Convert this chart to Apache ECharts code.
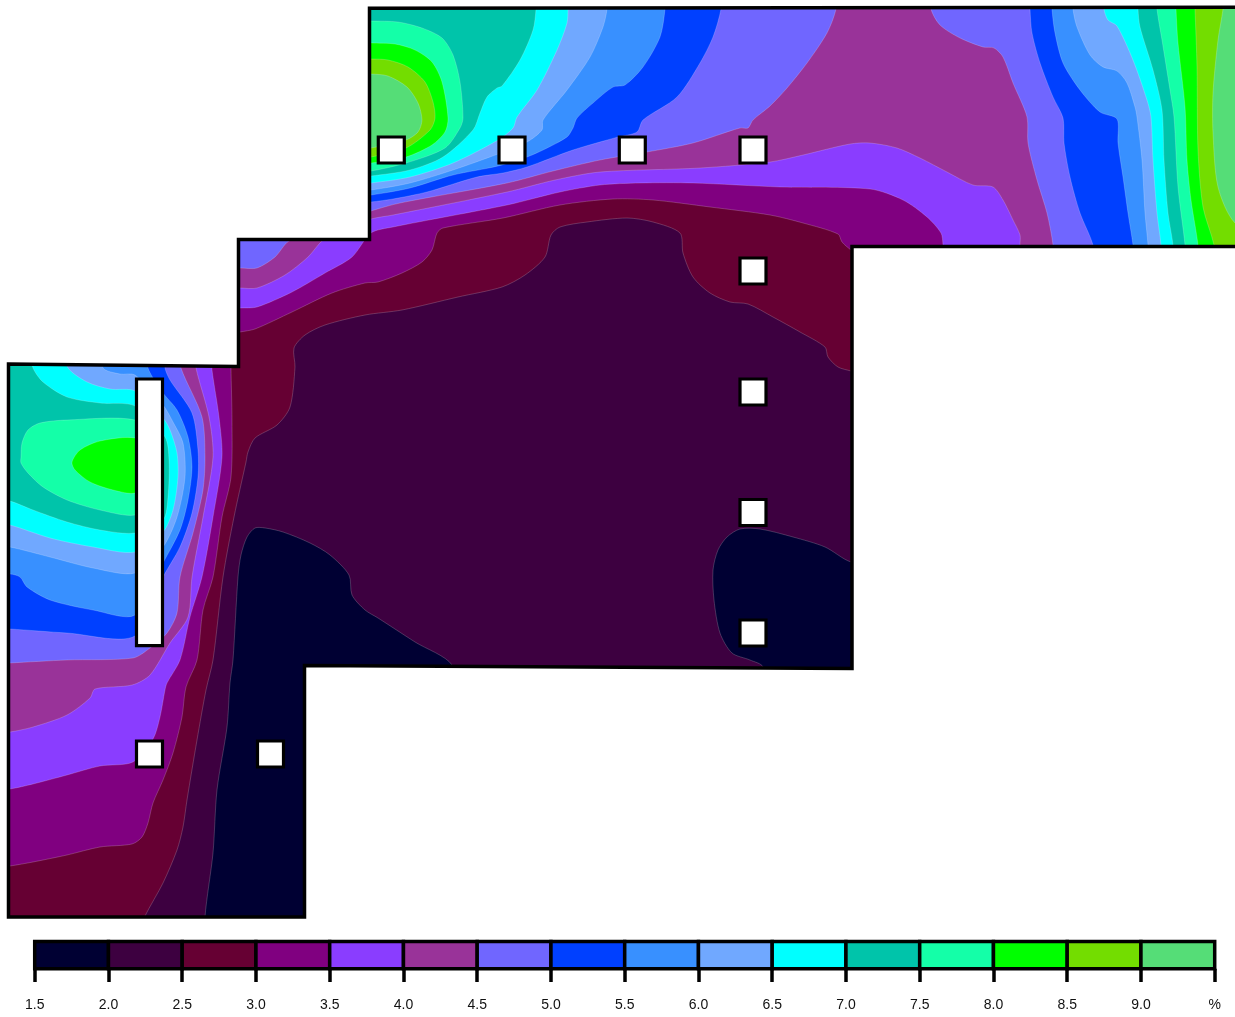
<!DOCTYPE html>
<html><head><meta charset="utf-8">
<style>html,body{margin:0;padding:0;background:#fff}#c{width:1235px;height:1017px}</style>
<script src="https://cdn.jsdelivr.net/npm/echarts@6/dist/echarts.min.js"></script></head>
<body><div id="c"></div><script>
// plan-view coordinates of the room outline
const outline=[[8.5,364],[238.5,366.5],[238.5,239.5],[369.5,239.5],[369.5,8.3],[1300,7.3],[1300,246.5],[852,246.5],[852,668.5],[304.5,665.5],[304.5,917],[8.5,917]];
const levels=[1.5,2,2.5,3,3.5,4,4.5,5,5.5,6,6.5,7,7.5,8,8.5,9];
const colors=['#000033','#3d0040','#660033','#800080','#8a3dff','#993399','#7066ff','#0040ff','#3890ff','#70a8ff','#00ffff','#00c4aa','#14ffa8','#00ff00','#73dd00','#55dd77'];
const tickLabels=['1.5','2.0','2.5','3.0','3.5','4.0','4.5','5.0','5.5','6.0','6.5','7.0','7.5','8.0','8.5','9.0','%'];
const sensorX=[391.3,512,632.3,753,753,753,753,753,149.5,270.5];
const sensorY=[150,150,150,150,271,392,512.5,633,754,754];
const barBox=[[136.5,379],[162.5,645.7]];
// contour bands (each region holds values >= its level)
const c20a=[[205,917],[205,960],[452,960],[452,700],[452,665],[415,642],[378,618],[365,610],[352,595],[349,575],[330,555],[310,543],[283,532],[265,528],[255,528],[247,537],[241,555],[238,577],[233,660],[230,683],[227,727],[217,790],[213,853]];
const c20b=[[763,667],[750,660],[732,653],[720,633],[714,600],[713,570],[718,550],[727,537],[740,529],[760,529],[793,537],[825,547],[851,562],[920,575],[920,700],[763,700]];
const c25=[[140,930],[145,916],[163,883],[177,850],[183,827],[187,800],[197,740],[206,690],[213,660],[223,577],[234,517],[246,462],[248,452],[255,438],[277,425],[290,407],[295,367],[294,348],[305,335],[325,325],[365,315],[402,310],[458,297],[502,287],[525,275],[545,257],[551,235],[560,227],[587,222],[627,218],[653,222],[680,233],[683,253],[693,277],[710,293],[730,302],[748,304],[773,317],[800,332],[825,347],[828,357],[838,367],[851,371],[880,380],[1300,400],[1300,-20],[-20,-20],[-20,940],[140,940]];
const c30a=[[-20,870],[10,866],[33,862],[67,855],[100,847],[132,844],[142,837],[148,823],[153,803],[163,780],[173,753],[182,717],[186,687],[197,660],[203,610],[213,577],[222,517],[231,477],[232,420],[231,368],[231,340],[-20,340]];
const c30b=[[225,335],[240,332],[255,329],[292,312],[332,293],[365,283],[378,282],[402,273],[422,262],[432,250],[437,233],[443,228],[503,218],[560,205],[613,199],[653,200],[710,207],[770,215],[803,223],[838,234],[842,242],[851,250],[880,270],[1300,270],[1300,-20],[225,-20]];
const c35a=[[-20,792],[10,789],[33,784],[67,775],[100,766],[133,762],[153,739],[160,717],[165,690],[167,683],[180,660],[190,617],[202,577],[213,517],[222,457],[219,417],[212,370],[210,345],[-20,345]];
const c35b=[[225,309],[240,308],[257,307],[292,292],[325,273],[352,257],[371,233],[393,227],[507,205],[560,192],[600,185],[640,183],[693,183],[780,187],[870,189],[903,200],[927,217],[941,233],[943,245],[945,270],[1300,270],[1300,-20],[225,-20]];
const c40a=[[-20,735],[10,732],[33,727],[67,715],[90,698],[95,689],[132,685],[150,675],[170,643],[188,617],[192,577],[203,517],[213,457],[209,417],[196,368],[194,345],[-20,345]];
const c40b=[[225,288],[240,288],[257,288],[285,275],[308,257],[322,241],[340,230],[371,219],[393,215],[507,192],[555,180],[600,172],[700,168],[770,162],[803,155],[850,144],[870,143],[897,148],[920,158],[947,172],[973,185],[993,187],[1003,200],[1013,220],[1020,235],[1020,245],[1021,270],[1300,270],[1300,-20],[225,-20]];
const c45a=[[-20,665],[10,663],[67,660],[133,658],[150,648],[167,633],[177,613],[180,577],[193,533],[203,490],[205,457],[202,417],[181,368],[178,345],[-20,345]];
const c45b=[[225,268],[240,268],[257,268],[275,257],[289,241],[330,225],[371,211],[400,203],[507,183],[553,171],[600,160],[647,152],[693,143],[740,128],[748,128],[753,120],[770,106],[787,88],[807,63],[827,33],[836,9],[838,-20],[225,-20]];
const c45c=[[929,-20],[931,9],[940,25],[960,38],[983,47],[994,48],[1003,57],[1013,83],[1027,117],[1028,143],[1037,180],[1047,213],[1053,245],[1054,270],[1300,270],[1300,-20]];
const c50a=[[-20,628],[10,629],[67,633],[135,636],[163,577],[180,547],[192,513],[198,477],[198,450],[192,413],[170,380],[165,368],[163,345],[-20,345]];
const c50b=[[340,-20],[340,205],[371,202],[393,199],[427,192],[477,177],[503,173],[527,167],[573,150],[618,137],[637,132],[643,120],[677,97],[700,63],[713,37],[721,9],[723,-20]];
const c50c=[[1029,-20],[1030,9],[1032,33],[1040,63],[1053,97],[1063,118],[1064,143],[1070,177],[1080,213],[1093,245],[1095,270],[1300,270],[1300,-20]];
const c55a=[[-20,574],[10,574],[20,577],[27,587],[50,600],[93,610],[135,615],[163,563],[180,530],[188,500],[192,467],[188,437],[177,410],[163,393],[148,368],[146,345],[-20,345]];
const c55b=[[340,-20],[340,198],[371,195],[410,188],[453,175],[498,166],[527,157],[543,150],[567,137],[573,128],[577,118],[593,103],[613,87],[625,85],[643,67],[660,37],[665,9],[666,-20]];
const c55c=[[1051,-20],[1052,9],[1055,33],[1063,63],[1080,90],[1100,112],[1117,119],[1118,143],[1123,177],[1128,213],[1133,245],[1135,270],[1300,270],[1300,-20]];
const c60a=[[-20,543],[10,547],[50,557],[93,568],[135,573],[163,547],[177,517],[185,477],[183,443],[173,422],[163,405],[135,375],[120,374],[103,368],[101,345],[-20,345]];
const c60b=[[340,-20],[340,193],[371,190],[410,183],[453,170],[498,154],[527,142],[542,130],[543,120],[567,90],[590,57],[603,27],[607,9],[608,-20]];
const c60c=[[1072,-20],[1073,9],[1077,27],[1090,55],[1103,67],[1117,71],[1127,83],[1135,107],[1137,117],[1142,160],[1145,213],[1148,245],[1149,270],[1300,270],[1300,-20]];
const c65a=[[-20,520],[10,525],[50,538],[93,547],[135,552],[163,532],[173,510],[178,477],[177,453],[170,430],[163,418],[135,391],[110,389],[87,382],[68,368],[60,345],[-20,345]];
const c65b=[[340,-20],[340,186],[371,183],[410,177],[453,163],[498,140],[513,128],[517,117],[537,90],[557,50],[567,23],[568,9],[569,-20]];
const c65c=[[1103,-20],[1104,9],[1108,20],[1117,26],[1133,60],[1147,100],[1151,117],[1153,160],[1157,213],[1161,245],[1162,270],[1300,270],[1300,-20]];
const c70a=[[-20,495],[10,501],[33,510],[67,522],[100,530],[135,533],[163,520],[168,497],[169,460],[165,437],[135,406],[100,403],[67,397],[43,382],[33,368],[28,345],[-20,345]];
const c70b=[[340,-20],[340,179],[371,176],[410,170],[443,157],[473,130],[480,113],[487,97],[497,88],[502,86],[520,60],[533,30],[536,9],[537,-20]];
const c70c=[[1137,-20],[1138,9],[1140,27],[1153,70],[1162,110],[1164,160],[1168,213],[1173,245],[1174,270],[1300,270],[1300,-20]];
const c75a=[[21,457],[22,443],[28,430],[40,423],[67,420],[135,420],[150,440],[150,500],[135,515],[100,510],[67,500],[43,487],[28,473],[21,463]];
const c75b=[[340,174],[371,171],[406,163],[445,148],[460,128],[463,118],[460,82],[453,55],[442,38],[422,28],[398,22],[371,21],[340,20]];
const c75c=[[1156,-20],[1157,9],[1162,40],[1170,90],[1174,117],[1178,187],[1185,245],[1186,270],[1300,270],[1300,-20]];
const c80a=[[72,462],[80,450],[100,441],[135,438],[145,450],[145,480],[135,493],[113,490],[90,482],[75,470]];
const c80b=[[340,166],[371,163],[406,157],[432,145],[445,132],[448,118],[442,82],[432,62],[415,50],[395,44],[371,43],[340,42]];
const c80c=[[1175,-20],[1176,9],[1178,43],[1185,107],[1187,160],[1191,200],[1198,245],[1199,270],[1300,270],[1300,-20]];
const c85a=[[340,160],[371,157],[406,148],[430,130],[435,118],[433,102],[425,82],[408,67],[388,60],[371,59],[340,58]];
const c85b=[[1194,-20],[1195,9],[1197,67],[1198,150],[1203,207],[1214,245],[1216,270],[1300,270],[1300,-20]];
const c90a=[[340,151],[371,148],[406,140],[418,132],[422,120],[418,103],[407,87],[388,76],[371,74],[340,73]];
const c90b=[[1225,-20],[1223,9],[1218,40],[1213,93],[1213,133],[1218,187],[1235,223],[1300,270],[1300,-20]];
const bands=[[1,outline],[0,c20a],[0,c20b],[2,c25],[3,c30a],[3,c30b],[4,c35a],[4,c35b],[5,c40a],[5,c40b],[6,c45a],[6,c45b],[6,c45c],[7,c50a],[7,c50b],[7,c50c],[8,c55a],[8,c55b],[8,c55c],[9,c60a],[9,c60b],[9,c60c],[10,c65a],[10,c65b],[10,c65c],[11,c70a],[11,c70b],[11,c70c],[12,c75a],[12,c75b],[12,c75c],[13,c80a],[13,c80b],[13,c80c],[14,c85a],[14,c85b],[15,c90a],[15,c90b]];

const chart=echarts.init(document.getElementById('c'));
const pts=(api,a)=>a.map(p=>api.coord(p));
chart.setOption({
 animation:false,
 grid:[{left:0,right:0,top:0,bottom:0,show:false},{left:34.7,width:1180,top:941.5,height:27.2,show:false}],
 xAxis:[{gridIndex:0,type:'value',min:0,max:1235,show:false},
  {gridIndex:1,type:'value',min:1.5,max:9.5,interval:0.5,position:'bottom',
   axisLine:{show:false},splitLine:{show:false},
   axisTick:{show:true,length:13.3,lineStyle:{color:'#000',width:3.5}},
   axisLabel:{show:true,margin:29,color:'#111',fontSize:14,fontFamily:'"Liberation Sans",Arial,sans-serif',showMinLabel:true,showMaxLabel:true,hideOverlap:false,
     formatter:v=>tickLabels[Math.round((v-1.5)*2)]}}],
 yAxis:[{gridIndex:0,type:'value',min:0,max:1017,inverse:true,show:false},
  {gridIndex:1,type:'value',min:0,max:1,show:false}],
 series:[
  {type:'custom',xAxisIndex:0,yAxisIndex:0,clip:false,silent:true,data:bands.map((b,i)=>[i]),z:1,
   renderItem(p,api){const b=bands[p.dataIndex];
     return {type:'polygon',shape:{points:pts(api,b[1]),smooth:b[1]===outline?0:0.28},
       clipPath:{type:'polygon',shape:{points:pts(api,outline)}},
       style:{fill:colors[b[0]],stroke:'rgba(255,255,255,0.28)',lineWidth:b[1]===outline?0:0.7}};}},
  {type:'custom',xAxisIndex:0,yAxisIndex:0,clip:false,silent:true,data:[[0]],z:5,
   renderItem(p,api){return {type:'polygon',shape:{points:pts(api,outline)},style:{fill:'none',stroke:'#000',lineWidth:3.5,lineJoin:'miter'}};}},
  {type:'custom',xAxisIndex:0,yAxisIndex:0,clip:false,silent:true,data:[[0]],z:6,
   renderItem(p,api){const a=api.coord(barBox[0]),b=api.coord(barBox[1]);
     return {type:'rect',shape:{x:a[0],y:a[1],width:b[0]-a[0],height:b[1]-a[1]},style:{fill:'#fff',stroke:'#000',lineWidth:3.2}};}},
  {type:'custom',xAxisIndex:0,yAxisIndex:0,clip:false,silent:true,data:sensorX.map((x,i)=>[x,sensorY[i]]),z:6,
   renderItem(p,api){const c=api.coord([api.value(0),api.value(1)]);
     return {type:'rect',shape:{x:c[0]-13,y:c[1]-13,width:26,height:26},style:{fill:'#fff',stroke:'#000',lineWidth:3.2}};}},
  {type:'custom',xAxisIndex:1,yAxisIndex:1,clip:false,silent:true,data:levels.map((l,i)=>[l,l+0.5,i]),z:6,
   renderItem(p,api){const a=api.coord([api.value(0),1]),b=api.coord([api.value(1),0]);
     return {type:'rect',shape:{x:a[0],y:a[1],width:b[0]-a[0],height:b[1]-a[1]},style:{fill:colors[api.value(2)],stroke:'#000',lineWidth:3.5}};}}
 ]});
</script></body></html>
